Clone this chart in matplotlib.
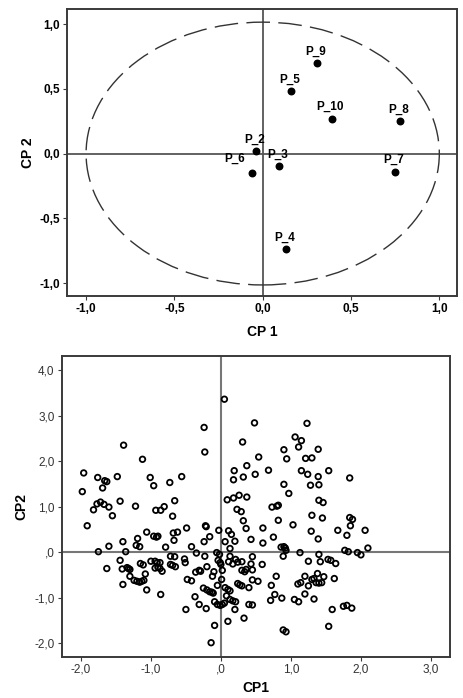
import numpy as np
import matplotlib
matplotlib.use("Agg")
from matplotlib import pyplot as plt
from matplotlib.patches import Ellipse

plt.rcParams['font.family'] = ['Liberation Sans', 'DejaVu Sans']

# --- loadings plot (top) ---
load_names = ['P_2', 'P_3', 'P_4', 'P_5', 'P_6', 'P_7', 'P_8', 'P_9', 'P_10']
load_cp1 = [-0.04, 0.09, 0.13, 0.16, -0.06, 0.75, 0.78, 0.31, 0.39]
load_cp2 = [0.02, -0.10, -0.74, 0.48, -0.15, -0.14, 0.25, 0.70, 0.27]

top_ticks = [-1.0, -0.5, 0.0, 0.5, 1.0]
top_ticklabels = ['-1,0', '-0,5', '0,0', '0,5', '1,0']

# --- scores plot (bottom) ---
score_cp1 = [
    0.05, -0.24, -0.23, -1.39, -1.12, -1.96, -1.98, -1.76, -1.66, -1.63,
    -1.69, -1.48, -1.82, -1.77, -1.72, -1.67, -1.60, -1.55, -1.44, -1.22,
    -1.01, -0.96, -0.93, -0.86, -0.81, -0.73, -0.66, -0.69, -0.56,
    0.31, 0.48, 0.54, 0.37, 0.49, 0.19, 0.18, 0.32, 0.68, 0.09,
    0.18, 0.26, 0.37, 0.23, 0.29, 0.32, 0.73, 0.80, 0.82, 0.82,
    0.90, 0.94, 0.90, 0.97, 1.06, 1.11, 1.15, 1.23, 1.21, 1.30,
    1.15, 1.24, 1.28, 1.39, 1.39, 1.40, 1.40, 1.46, 1.30, 1.45,
    1.54, 1.84, 1.84, 1.88,
    -1.91, -1.06, -0.96, -0.92, -0.90, -1.19, -0.68, -0.62, -0.67, -0.49,
    -0.22, -0.21, -0.16, -0.24, -0.03, 0.11, 0.15, 0.36, 0.43, 0.60,
    0.60, 0.75, 1.03, 0.86, 0.90, 0.92, 0.89, 0.93, 1.29, 1.39,
    1.67, 1.80, 1.85, 2.06, 2.10, 1.13, 1.77, 1.82, 1.95, 2.00,
    -1.75, -1.60, -1.40, -1.36, -1.21, -1.16, -0.79, -0.42, -0.35, -0.23,
    -0.06, -0.02, 0.13, 0.13, 0.45, 0.06, 0.20,
    -1.63, -1.44, -1.41, -1.34, -1.32, -1.30, -1.15, -1.11, -1.08, -1.30,
    -1.24, -1.20, -1.16, -1.13, -1.10, -1.40, -1.06, -1.00, -0.94, -0.91,
    -0.87, -0.94, -0.90, -0.87, -0.84, -0.86, -0.72, -0.66, -0.72, -0.69,
    -0.65, -0.52, -0.51, -0.48, -0.42, -0.36, -0.31, -0.29, -0.37, -0.31,
    -0.50, -0.25, -0.20, -0.16, -0.13, -0.11, -0.21, -0.20, -0.12, -0.10,
    -0.04, -0.01, 0.00, 0.02, 0.01, -0.05, -0.09, -0.05, -0.01, 0.02,
    0.05, 0.06, 0.10, 0.13, 0.08, 0.13, 0.17, 0.21, -0.09, -0.14,
    0.10, 0.20, 0.33, 0.11, 0.17, 0.21, 0.24, 0.30, 0.34, 0.36,
    0.30, 0.43, 0.45, 0.24, 0.27, 0.30, 0.40, 0.45, 0.53, 0.40,
    0.45, 0.59, 0.79, 0.72, 0.77, 0.71, 0.87, 0.89, 0.93, 1.10,
    1.14, 1.20, 1.25, 1.20, 1.05, 1.11, 1.25, 1.30, 1.33, 1.36,
    1.40, 1.44, 1.38, 1.40, 1.42, 1.47, 1.33, 1.53, 1.57, 1.64,
    1.62, 1.75, 1.80, 1.87, 1.59, 1.54,
]
score_cp2 = [
    3.36, 2.74, 2.20, 2.35, 2.04, 1.74, 1.33, 1.64, 1.57, 1.55,
    1.41, 1.66, 0.93, 1.06, 1.10, 1.05, 0.99, 0.80, 1.12, 1.01,
    1.64, 1.46, 0.92, 0.92, 1.00, 1.53, 1.13, 0.79, 1.66,
    2.42, 2.84, 2.09, 1.90, 1.71, 1.79, 1.59, 1.65, 1.80, 1.15,
    1.19, 1.25, 1.21, 0.94, 0.89, 0.69, 0.99, 1.01, 1.03, 0.70,
    2.25, 2.05, 1.49, 1.29, 2.53, 2.31, 2.45, 2.83, 2.06, 2.07,
    1.79, 1.71, 1.47, 1.66, 2.26, 1.48, 1.14, 1.09, 0.81, 0.75,
    1.79, 1.63, 0.76, 0.72,
    0.58, 0.44, 0.35, 0.33, 0.35, 0.30, 0.42, 0.44, 0.26, 0.53,
    0.58, 0.56, 0.34, 0.23, 0.48, 0.47, 0.39, 0.52, 0.28, 0.53,
    0.20, 0.33, 0.60, 0.11, 0.12, 0.09, -0.09, 0.04, 0.46, 0.29,
    0.48, 0.37, 0.58, 0.48, 0.09, -0.01, 0.04, 0.01, -0.01, -0.06,
    0.01, 0.13, 0.23, 0.01, 0.15, 0.12, 0.11, 0.12, -0.02, -0.09,
    -0.01, -0.05, 0.08, -0.09, -0.10, 0.23, 0.24,
    -0.36, -0.18, -0.37, -0.34, -0.36, -0.38, -0.25, -0.28, -0.48, -0.53,
    -0.62, -0.64, -0.66, -0.64, -0.62, -0.71, -0.83, -0.20, -0.20, -0.23,
    -0.23, -0.35, -0.33, -0.36, -0.42, -0.93, -0.09, -0.10, -0.27, -0.29,
    -0.32, -0.15, -0.23, -0.60, -0.63, -0.44, -0.40, -0.42, -0.98, -1.15,
    -1.26, -0.79, -0.83, -0.87, -0.88, -0.90, -1.24, -0.32, -0.53, -0.43,
    -0.18, -0.23, -0.27, -0.40, -0.60, -0.73, -1.09, -1.15, -1.17, -1.15,
    -1.12, -0.78, -0.82, -0.85, -0.96, -1.04, -1.07, -1.09, -1.61, -1.99,
    -1.52, -1.26, -1.45, -0.21, -0.26, -0.16, -0.22, -0.40, -0.43, -0.38,
    -0.21, -0.26, -0.39, -0.69, -0.72, -0.74, -0.78, -0.61, -0.64, -1.15,
    -1.16, -0.27, -0.53, -0.73, -0.93, -1.06, -1.01, -1.71, -1.75, -0.70,
    -0.67, -0.53, -0.74, -0.92, -1.04, -1.09, -0.20, -0.60, -0.58, -0.67,
    -0.68, -0.67, -0.47, -0.05, -0.21, -0.54, -1.03, -0.16, -0.18, -0.25,
    -0.58, -1.19, -1.17, -1.23, -1.26, -1.63,
]

bot_xticks = [-2.0, -1.0, 0.0, 1.0, 2.0, 3.0]
bot_xticklabels = ['-2,0', '-1,0', ',0', '1,0', '2,0', '3,0']
bot_yticks = [-2.0, -1.0, 0.0, 1.0, 2.0, 3.0, 4.0]
bot_yticklabels = ['-2,0', '-1,0', ',0', '1,0', '2,0', '3,0', '4,0']

fig = plt.figure(figsize=(4.63, 6.98), dpi=100)
frame_col = '#3a3a3a'

# top panel
ax1 = fig.add_axes([0.1447, 0.576, 0.8423, 0.411])
ax1.set_xlim(-1.108, 1.10)
ax1.set_ylim(-1.10, 1.116)
ax1.axhline(0, color='#555555', lw=1.3, zorder=1)
ax1.axvline(0, color='#555555', lw=1.3, zorder=1)
circ = Ellipse((0, 0), 2.0, 2.03, fill=False, ec='#333333', lw=1.0,
               linestyle=(0, (17, 6)), zorder=2)
ax1.add_patch(circ)
ax1.scatter(load_cp1, load_cp2, s=22, color='black', zorder=3)
for name, x, y in zip(load_names, load_cp1, load_cp2):
    if name == 'P_6':
        ax1.annotate(name, (x, y), xytext=(-5, 6), textcoords='offset points',
                     ha='right', va='bottom', fontsize=8.5, fontweight='bold')
    else:
        ax1.annotate(name, (x, y), xytext=(-1, 4), textcoords='offset points',
                     ha='center', va='bottom', fontsize=8.5, fontweight='bold')
ax1.set_xticks(top_ticks)
ax1.set_xticklabels(top_ticklabels, fontweight='bold')
ax1.set_yticks(top_ticks)
ax1.set_yticklabels(top_ticklabels, fontweight='bold')
ax1.tick_params(labelsize=8.5, length=3, color=frame_col, pad=2)
ax1.set_xlabel('CP 1', fontsize=10, fontweight='bold', labelpad=7)
ax1.set_ylabel('CP 2', fontsize=10, fontweight='bold', labelpad=3)
for sp in ax1.spines.values():
    sp.set_color(frame_col)
    sp.set_linewidth(1.4)

# bottom panel
ax2 = fig.add_axes([0.133, 0.059, 0.840, 0.431])
ax2.set_xlim(-2.276, 3.28)
ax2.set_ylim(-2.30, 4.31)
ax2.axhline(0, color='#777777', lw=1.5, zorder=1)
ax2.axvline(0, color='#777777', lw=1.5, zorder=1)
ax2.scatter(score_cp1, score_cp2, s=16, facecolors='none', edgecolors='black',
            linewidths=1.3, zorder=3)
ax2.set_xticks(bot_xticks)
ax2.set_xticklabels(bot_xticklabels)
ax2.set_yticks(bot_yticks)
ax2.set_yticklabels(bot_yticklabels)
ax2.tick_params(labelsize=8.5, length=3, color=frame_col, labelcolor='#333333', pad=2)
ax2.set_xlabel('CP1', fontsize=10, fontweight='bold', labelpad=4)
ax2.set_ylabel('CP2', fontsize=10, fontweight='bold', labelpad=4)
for sp in ax2.spines.values():
    sp.set_color(frame_col)
    sp.set_linewidth(1.4)

fig.savefig('out.png', dpi=100)
